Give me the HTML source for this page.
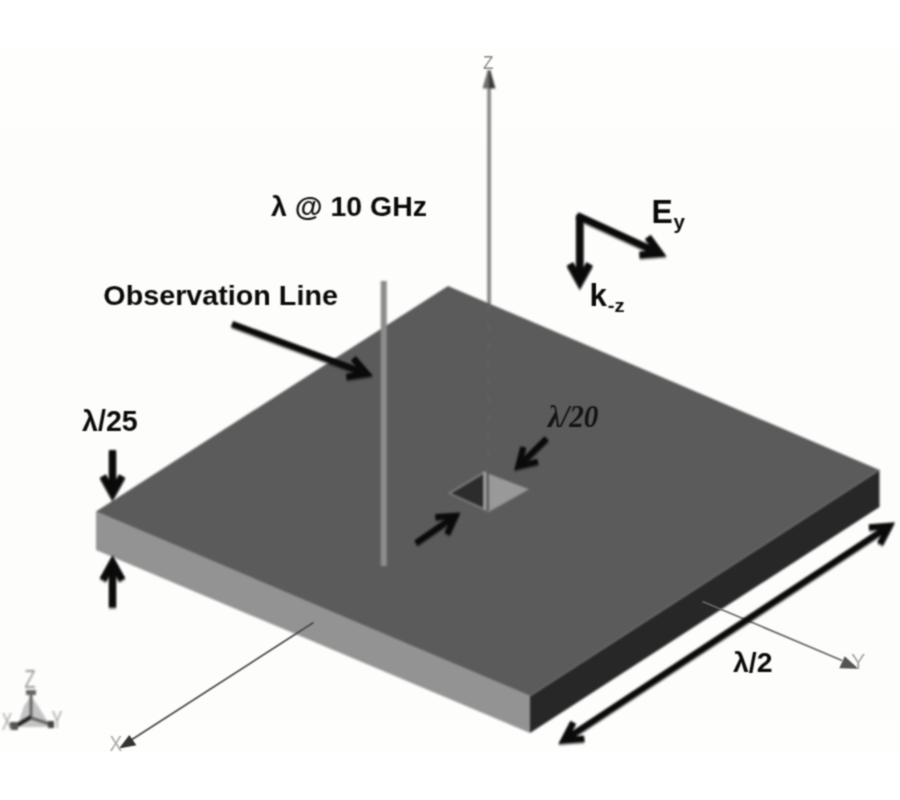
<!DOCTYPE html>
<html><head><meta charset="utf-8"><title>figure</title>
<style>html,body{margin:0;padding:0;background:#fff;}body{width:900px;height:800px;overflow:hidden;}</style></head>
<body>
<svg width="900" height="800" viewBox="0 0 900 800" style="display:block">
<defs><filter id="b" x="-5%" y="-5%" width="110%" height="110%" color-interpolation-filters="sRGB"><feGaussianBlur stdDeviation="0.8"/></filter><filter id="s" x="-10%" y="-10%" width="120%" height="120%" color-interpolation-filters="sRGB"><feGaussianBlur in="SourceAlpha" stdDeviation="1.3" result="sb"/><feOffset in="sb" dx="0.4" dy="2" result="so"/><feComponentTransfer in="so" result="sh"><feFuncA type="linear" slope="0.3"/></feComponentTransfer><feGaussianBlur in="SourceGraphic" stdDeviation="0.8" result="g"/><feMerge><feMergeNode in="sh"/><feMergeNode in="g"/></feMerge></filter><filter id="t" x="-5%" y="-5%" width="110%" height="110%" color-interpolation-filters="sRGB"><feConvolveMatrix order="3" kernelMatrix="1 2 1 2 6 2 1 2 1" divisor="18" edgeMode="none" preserveAlpha="false"/></filter><linearGradient id="bg" x1="0" y1="0" x2="0" y2="1"><stop offset="0" stop-color="#fefefe"/><stop offset="0.025" stop-color="#fefefc"/><stop offset="0.2" stop-color="#fdfdfb"/><stop offset="0.9" stop-color="#fdfdfb"/><stop offset="1" stop-color="#fefefd"/></linearGradient></defs>
<rect width="900" height="800" fill="#ffffff"/>
<rect y="49" width="900" height="703" fill="url(#bg)"/>
<g filter="url(#b)">
<line x1="489.1" y1="70" x2="489.1" y2="304" stroke="#8a8a8a" stroke-width="3.8"/>
<polygon points="489,71 487.5,71 482.5,88.5 489,88.5" fill="#6e6e6e"/>
<polygon points="489,71 490.5,71 495.5,88.5 489,88.5" fill="#3a3a3a"/>
<polygon points="96,511.5 530,696 530,733 96,550" fill="#939393"/>
<polygon points="530,696 879.5,470 879.5,507 530,733" fill="#282728"/>
<polygon points="96,511.5 448,286 879.5,470 530,696" fill="#5b5b5b"/>
<line x1="530" y1="696" x2="879.5" y2="470" stroke="#707070" stroke-width="1.2"/>
<line x1="488.5" y1="306" x2="488.5" y2="470" stroke="#616161" stroke-width="2.6" stroke-dasharray="7 11"/>
<polygon points="447.5,493.3 483.5,471.5 529.5,489.3 488.7,512.5" fill="#7a7a7a"/>
<polygon points="451.5,493.3 483,474.5 483,507.5" fill="#2c2c2c"/>
<polygon points="489,474 528.5,489.3 489.5,511" fill="#999999"/>
<line x1="484.8" y1="471.5" x2="484.8" y2="509.5" stroke="#a6a6a6" stroke-width="2.2"/>
<line x1="487.7" y1="473" x2="487.7" y2="510.5" stroke="#505050" stroke-width="1.3"/>
<line x1="383.75" y1="281" x2="383.75" y2="566" stroke="#8c8c8c" stroke-width="6"/>
</g>
<g filter="url(#t)">
<line x1="313.5" y1="622.5" x2="132" y2="739.5" stroke="#4a4a4a" stroke-width="1.7"/>
<polygon points="119,748.4 129.3,735 136.4,745.3" fill="#333"/>
<line x1="702.5" y1="601.5" x2="842" y2="660.5" stroke="#6a6a6a" stroke-width="1.7"/>
<polygon points="858.4,668.7 839.3,668.2 844.7,656.2" fill="#555"/>
</g>
<g filter="url(#s)">
<line x1="232.0" y1="324.0" x2="366.8" y2="373.7" stroke="#0a0a0a" stroke-width="6.4" stroke-linecap="butt"/>
<polyline points="346.5,376.8 366.8,373.7 353.4,358.2" fill="none" stroke="#0a0a0a" stroke-width="6.4" stroke-linejoin="miter" stroke-miterlimit="10" stroke-linecap="butt"/>
<line x1="579.8" y1="214.5" x2="579.8" y2="281.9" stroke="#0a0a0a" stroke-width="7.4" stroke-linecap="butt"/>
<polyline points="569.9,263.9 579.8,281.9 589.7,263.9" fill="none" stroke="#0a0a0a" stroke-width="7.4" stroke-linejoin="miter" stroke-miterlimit="10" stroke-linecap="butt"/>
<line x1="577.0" y1="215.5" x2="659.9" y2="253.4" stroke="#0a0a0a" stroke-width="7.2" stroke-linecap="butt"/>
<polyline points="639.5,255.0 659.9,253.4 647.8,236.9" fill="none" stroke="#0a0a0a" stroke-width="7.2" stroke-linejoin="miter" stroke-miterlimit="10" stroke-linecap="butt"/>
<line x1="112.5" y1="450.0" x2="112.5" y2="493.6" stroke="#0a0a0a" stroke-width="7.2" stroke-linecap="butt"/>
<polyline points="102.8,476.1 112.5,493.6 122.2,476.1" fill="none" stroke="#0a0a0a" stroke-width="7.2" stroke-linejoin="miter" stroke-miterlimit="10" stroke-linecap="butt"/>
<line x1="112.5" y1="607.5" x2="112.5" y2="562.4" stroke="#0a0a0a" stroke-width="7.2" stroke-linecap="butt"/>
<polyline points="122.2,579.9 112.5,562.4 102.8,579.9" fill="none" stroke="#0a0a0a" stroke-width="7.2" stroke-linejoin="miter" stroke-miterlimit="10" stroke-linecap="butt"/>
<line x1="546.7" y1="438.5" x2="518.4" y2="466.3" stroke="#0a0a0a" stroke-width="6.0" stroke-linecap="butt"/>
<polyline points="523.4,447.0 518.4,466.3 537.8,461.7" fill="none" stroke="#0a0a0a" stroke-width="6.0" stroke-linejoin="miter" stroke-miterlimit="10" stroke-linecap="butt"/>
<line x1="416.0" y1="543.0" x2="455.5" y2="515.8" stroke="#0a0a0a" stroke-width="6.0" stroke-linecap="butt"/>
<polyline points="447.2,534.0 455.5,515.8 435.5,517.0" fill="none" stroke="#0a0a0a" stroke-width="6.0" stroke-linejoin="miter" stroke-miterlimit="10" stroke-linecap="butt"/>
<line x1="563.8" y1="740.4" x2="889.5" y2="525.8" stroke="#0a0a0a" stroke-width="6.4" stroke-linecap="butt"/>
<polyline points="880.0,544.0 889.5,525.8 869.0,527.4" fill="none" stroke="#0a0a0a" stroke-width="6.4" stroke-linejoin="miter" stroke-miterlimit="10" stroke-linecap="butt"/>
<polyline points="573.3,722.2 563.8,740.4 584.3,738.8" fill="none" stroke="#0a0a0a" stroke-width="6.4" stroke-linejoin="miter" stroke-miterlimit="10" stroke-linecap="butt"/>
</g>
<g filter="url(#t)">
<text transform="translate(271.00,215.50) scale(1.0082,1)" font-family="'Liberation Sans', sans-serif" font-weight="bold" font-style="normal" font-size="28.26" fill="#0a0a0a">λ @ 10 GHz</text>
<text transform="translate(103.35,304.50) scale(1.0163,1)" font-family="'Liberation Sans', sans-serif" font-weight="bold" font-style="normal" font-size="28.26" fill="#0a0a0a">Observation Line</text>
<text transform="translate(651.43,222.50) scale(0.9770,1)" font-family="'Liberation Sans', sans-serif" font-weight="bold" font-style="normal" font-size="32.61" fill="#0a0a0a">E</text>
<text transform="translate(673.60,228.50) scale(0.9899,1)" font-family="'Liberation Sans', sans-serif" font-weight="bold" font-style="normal" font-size="20.75" fill="#0a0a0a">y</text>
<text transform="translate(589.46,306.00) scale(1.0090,1)" font-family="'Liberation Sans', sans-serif" font-weight="bold" font-style="normal" font-size="31.03" fill="#0a0a0a">k</text>
<text transform="translate(607.79,312.00) scale(1.0739,1)" font-family="'Liberation Sans', sans-serif" font-weight="bold" font-style="normal" font-size="18.87" fill="#0a0a0a">-z</text>
<text transform="translate(82.00,430.50) scale(1.0026,1)" font-family="'Liberation Sans', sans-serif" font-weight="bold" font-style="normal" font-size="28.57" fill="#0a0a0a">λ/25</text>
<text transform="translate(733.00,671.50) scale(1.0359,1)" font-family="'Liberation Sans', sans-serif" font-weight="bold" font-style="normal" font-size="27.43" fill="#0a0a0a">λ/2</text>
<text transform="translate(548.03,427.00) scale(0.9437,1)" font-family="'Liberation Serif', serif" font-weight="bold" font-style="italic" font-size="31.06" fill="#141414">λ/20</text>
<text transform="translate(482.98,69.30) scale(0.9311,1)" font-family="'Liberation Sans', sans-serif" font-weight="normal" font-style="normal" font-size="18.55" fill="#858585">Z</text>
<text transform="translate(109.62,750.50) scale(0.8479,1)" font-family="'Liberation Sans', sans-serif" font-weight="normal" font-style="normal" font-size="22.46" fill="#a8a8a8">X</text>
<text transform="translate(851.07,669.00) scale(0.9936,1)" font-family="'Liberation Sans', sans-serif" font-weight="normal" font-style="normal" font-size="21.74" fill="#a8a8a8">Y</text>
</g>
<g filter="url(#b)">
<polygon points="31,696 24,706 17,727 51,727 38,706" fill="#c4c4c4"/>
<line x1="31" y1="692" x2="31" y2="718" stroke="#666" stroke-width="3"/>
<rect x="26" y="690" width="10" height="5" fill="#666"/>
<line x1="31" y1="717" x2="14" y2="727" stroke="#222" stroke-width="4"/>
<rect x="10" y="722" width="8" height="8" fill="#555"/>
<line x1="31" y1="718" x2="50" y2="724" stroke="#666" stroke-width="3"/>
<rect x="48" y="721" width="6" height="7" fill="#444"/>
<text transform="translate(24.45,688.00) scale(0.6970,1)" font-family="'Liberation Sans', sans-serif" font-weight="normal" font-style="normal" font-size="26.09" fill="#999">Z</text>
<text transform="translate(1.68,730.00) scale(0.6443,1)" font-family="'Liberation Sans', sans-serif" font-weight="normal" font-style="normal" font-size="24.64" fill="#aaa">X</text>
<text transform="translate(51.68,728.00) scale(0.6494,1)" font-family="'Liberation Sans', sans-serif" font-weight="normal" font-style="normal" font-size="24.64" fill="#aaa">Y</text>
</g>
</svg>
</body></html>
